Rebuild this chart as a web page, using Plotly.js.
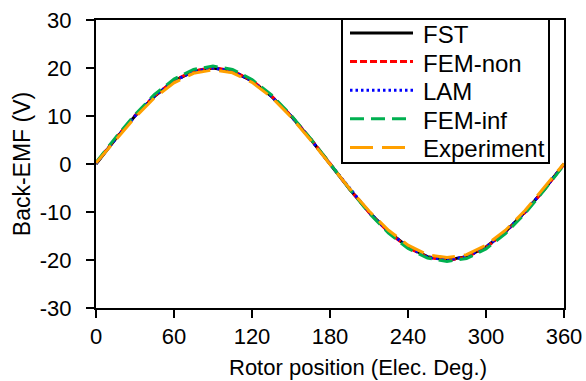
<!DOCTYPE html>
<html>
<head>
<meta charset="utf-8">
<script src="https://cdn.plot.ly/plotly-3.0.1.min.js"></script>
<style>
html,body{margin:0;padding:0;background:#fff;}
#chart{width:586px;height:381px;}
</style>
</head>
<body>
<div id="chart"></div>
<script>
// Rotor position (electrical degrees)
var rotorPos = [0,15,30,45,60,75,90,105,120,135,150,165,180,195,210,225,240,255,270,285,300,315,330,345,360];

// Back-EMF values (V)
var fst = [0,5.2,10.0,14.1,17.3,19.3,20.0,19.3,17.3,14.1,10.0,5.2,0,-5.2,-10.0,-14.1,-17.3,-19.3,-20.0,-19.3,-17.3,-14.1,-10.0,-5.2,0];
var femNon = [0.2,5.3,10.1,14.2,17.4,19.4,20.1,19.4,17.4,14.2,10.1,5.3,0.1,-5.2,-10.1,-14.2,-17.4,-19.4,-20.1,-19.4,-17.4,-14.2,-10.1,-5.3,0];
var lam = [0.1,5.2,10.0,14.2,17.3,19.3,20.0,19.4,17.3,14.1,10.0,5.2,0,-5.1,-10.0,-14.1,-17.3,-19.4,-20.0,-19.3,-17.3,-14.1,-10.0,-5.2,0];
var femInf = [0.3,5.5,10.3,14.5,17.7,19.7,20.4,19.7,17.6,14.4,10.2,5.3,0.1,-5.2,-10.2,-14.4,-17.6,-19.6,-20.3,-19.7,-17.7,-14.5,-10.3,-5.4,-0.2];
var experiment = [0.2,5.0,9.7,13.8,16.9,18.9,19.6,19.0,17.0,13.9,9.8,5.0,-0.1,-5.1,-9.8,-13.8,-16.9,-18.9,-19.5,-18.9,-16.9,-13.8,-9.7,-4.9,0.1];

var seriesNames = ['FST','FEM-non','LAM','FEM-inf','Experiment'];
var seriesValues = [fst, femNon, lam, femInf, experiment];
var seriesColors = ['#000000','#ff0000','#0000ff','#00b050','#ffa000'];
var seriesDash = ['solid','7px,3px','2.5px,3px','14px,7px','23px,9px'];

var xTicks = [0,60,120,180,240,300,360];
var yTicks = [-30,-20,-10,0,10,20,30];

var xTitle = 'Rotor position (Elec. Deg.)';
var yTitle = 'Back-EMF (V)';

var FONT = 'Arial, "Liberation Sans", sans-serif';

var traces = seriesNames.map(function(name, i){
  return {
    type:'scatter', mode:'lines', name:name, showlegend:false,
    x: rotorPos, y: seriesValues[i],
    line:{color:seriesColors[i], width:3, dash:seriesDash[i]}
  };
});

// Legend drawn in paper coordinates (box, line samples, labels)
var plotL = 96, plotT = 20, plotW = 468, plotH = 288;
function px2x(p){ return (p - plotL) / plotW; }
function px2y(p){ return (plotT + plotH - p) / plotH; }

var shapes = [{
  type:'rect', xref:'paper', yref:'paper', layer:'above',
  x0:px2x(342), x1:px2x(549), y0:px2y(163), y1:px2y(19),
  line:{color:'#000', width:2}, fillcolor:'#fff'
}];
var annotations = [];
seriesNames.forEach(function(name, i){
  var rowY = 33 + 28.6 * i;
  shapes.push({
    type:'line', xref:'paper', yref:'paper', layer:'above',
    x0:px2x(350), x1:px2x(413), y0:px2y(rowY), y1:px2y(rowY),
    line:{color:seriesColors[i], width:3, dash:seriesDash[i]}
  });
  annotations.push({
    xref:'paper', yref:'paper', x:px2x(421), y:px2y(rowY + 1.5),
    xanchor:'left', yanchor:'middle', showarrow:false, text:name,
    font:{family:FONT, size:24, color:'#000'}
  });
});
annotations.push({
  xref:'paper', yref:'paper', x:px2x(358), y:px2y(367),
  xanchor:'center', yanchor:'middle', showarrow:false, text:xTitle,
  font:{family:FONT, size:22, color:'#000'}
});

var axisCommon = {
  showline:true, linecolor:'#000', linewidth:2, mirror:true,
  ticks:'outside', ticklen:8, tickwidth:2, tickcolor:'#000',
  showgrid:false, zeroline:false,
  tickfont:{family:FONT, size:22, color:'#000'}
};

var layout = {
  width:586, height:381,
  margin:{l:96, r:22, t:20, b:73},
  paper_bgcolor:'#fff', plot_bgcolor:'#fff',
  font:{family:FONT, color:'#000'},
  showlegend:false,
  xaxis: Object.assign({}, axisCommon, {
    range:[0,360], tickvals:xTicks, ticktext:xTicks.map(String),
    ticklabelstandoff:0
  }),
  yaxis: Object.assign({}, axisCommon, {
    range:[-30,30], tickvals:yTicks, ticktext:yTicks.map(String),
    ticklabelstandoff:10,
    title:{text:yTitle, font:{family:FONT, size:23, color:'#000'}, standoff:3}
  }),
  shapes:shapes,
  annotations:annotations
};

Plotly.newPlot('chart', traces, layout, {displayModeBar:false, staticPlot:true});
</script>
</body>
</html>
